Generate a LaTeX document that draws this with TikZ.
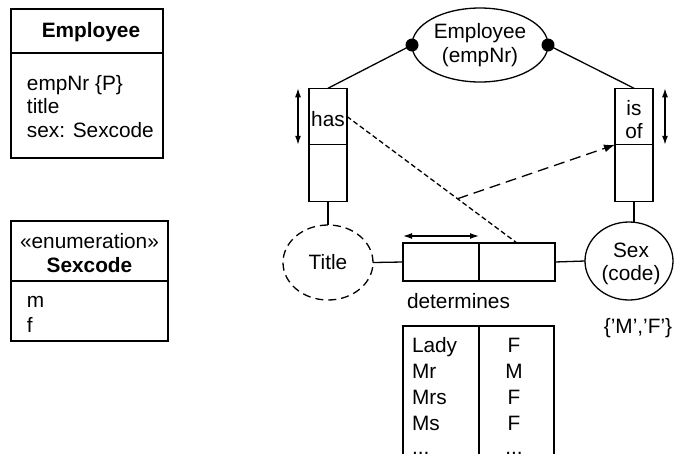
\documentclass[tikz,border=0pt]{standalone}
\usepackage{fontspec}
\setmainfont{Liberation Sans}
\usetikzlibrary{shapes.geometric,arrows.meta,calc}
\begin{document}
\begin{tikzpicture}[x=1pt,y=-1pt,
  every node/.style={font=\fontsize{20.8}{24}\selectfont, inner sep=0pt, outer sep=0pt},
  thick line/.style={line width=1.3pt},
  box/.style={draw, thick line, rectangle},
  rolecell/.style={box, minimum width=38pt, minimum height=56.5pt},
  detcell/.style={box, minimum width=76pt, minimum height=38pt},
  entity/.style={draw, thick line, ellipse},
  valuetype/.style={entity, dash pattern=on 8pt off 5pt},
  uniq/.style={thick line, {Latex[length=9pt,width=6pt]}-{Latex[length=9pt,width=6pt]}},
  mandatory/.style={fill=black, circle, minimum size=13pt},
  joinpath/.style={thick line, dash pattern=on 5pt off 3pt},
  subsetarrow/.style={thick line, dash pattern=on 11pt off 6pt, -{Latex[length=11pt,width=8pt]}}
]
\useasboundingbox (0,0) rectangle (675,453);
\clip (0,0) rectangle (675,453);

% ---------- UML class Employee ----------
\node[box, minimum width=152pt, minimum height=44pt, anchor=north west] (empHead) at (11,9) {};
\node[box, minimum width=152pt, minimum height=105pt, anchor=north west] (empBody) at (11,53) {};
\node[anchor=base] (empName) at (91,37) {\bfseries Employee};
\node[anchor=base west] (attr1) at (27,90) {empNr \{P\}};
\node[anchor=base west] (attr2) at (27,113) {title};
\node[anchor=base west] (attr3) at (27,137) {sex: Sexcode};

% ---------- UML enumeration Sexcode ----------
\node[box, minimum width=157pt, minimum height=60pt, anchor=north west] (enumHead) at (11,221) {};
\node[box, minimum width=157pt, minimum height=60pt, anchor=north west] (enumBody) at (11,281) {};
\node[anchor=base] (stereo) at (89.5,248) {«enumeration»};
\node[anchor=base] (enumName) at (89.5,272) {\bfseries Sexcode};
\node[anchor=base west] (lit1) at (27,307) {m};
\node[anchor=base west] (lit2) at (27,332) {f};

% ---------- ORM schema ----------
\node[entity, minimum width=136pt, minimum height=74pt] (emp) at (480,45) {};
\node[anchor=base] (empL1) at (480,38) {Employee};
\node[anchor=base] (empL2) at (480,62) {(empNr)};

% fact type: Employee has Title
\node[rolecell] (hasT) at (328,116.5) {};
\node[rolecell] (hasB) at (328,173) {};
\node[anchor=base] (hasTxt) at (328,126) {has};

% fact type: Employee is of Sex
\node[rolecell] (isofT) at (634,116.5) {};
\node[rolecell] (isofB) at (634,173) {};
\node[anchor=base] (isTxt) at (634,115) {is};
\node[anchor=base] (ofTxt) at (634,138) {of};

% value type Title and entity type Sex
\node[valuetype, minimum width=90pt, minimum height=75pt] (title) at (328,262.5) {};
\node (titleTxt) at (328,262) {Title};
\node[entity, minimum width=88pt, minimum height=78pt] (sex) at (629,261) {};
\node[anchor=base] (sexL1) at (631,257) {Sex};
\node[anchor=base] (sexL2) at (631,280) {(code)};
\node[anchor=base] (sexVals) at (638,333) {\{'M','F'\}};

% fact type: Title determines Sex
\node[detcell] (detL) at (441,262) {};
\node[detcell] (detR) at (517,262) {};
\node[anchor=base] (detTxt) at (458.5,308) {determines};

% sample population table
\node[box, minimum width=76pt, minimum height=150pt, anchor=north west] (tabL) at (403,326) {};
\node[box, minimum width=75pt, minimum height=150pt, anchor=north west] (tabR) at (479,326) {};
\foreach \i/\t/\s/\b in {1/Lady/F/352.5, 2/Mr/M/378, 3/Mrs/F/404, 4/Ms/F/430} {
  \node[anchor=base west] (rowL\i) at (412,\b) {\t};
  \node[anchor=base] (rowR\i) at (514,\b) {\s};
}
\node[anchor=base west] (rowL5) at (412,454) {.{}.{}.};
\node[anchor=base] (rowR5) at (514,454) {.{}.{}.};

% role connectors
\node[mandatory] (dotL) at (emp.west) {};
\node[mandatory] (dotR) at (emp.east) {};
\draw[thick line] (dotL.center) -- (hasT.north);
\draw[thick line] (dotR.center) -- (isofT.north);
\draw[thick line] (hasB.south) -- (title.north);
\draw[thick line] (isofB.south) -- (isofB.south |- sex.north);
\draw[thick line] (title.east) -- (detL.west);
\draw[thick line] (detR.east) -- (sex.west);

% uniqueness constraints
\draw[uniq] ([xshift=-11pt]hasT.north west) -- ([xshift=-11pt]hasT.south west);
\draw[uniq] ([xshift=12pt]isofT.north east) -- ([xshift=12pt]isofT.south east);
\draw[uniq] ([yshift=7pt]detL.north west) -- ([yshift=7pt]detL.north east);

% join path and subset constraint
\draw[joinpath] (hasT.east) -- (detR.north);
\coordinate (joinPt) at ($(hasT.east)!0.65!(detR.north)$);
\draw[subsetarrow] (joinPt) -- (isofT.south west);
\end{tikzpicture}
\end{document}
